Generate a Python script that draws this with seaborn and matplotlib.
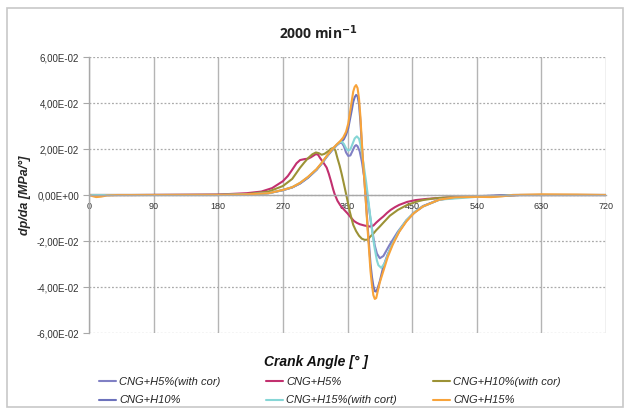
import numpy as np
import pandas as pd
import matplotlib
matplotlib.use("Agg")
import matplotlib.pyplot as plt
import seaborn as sns
from matplotlib.ticker import FuncFormatter
from matplotlib.patches import Rectangle
from matplotlib.lines import Line2D

# ---------------- data ----------------
labels = ["CNG+H5%(with cor)", "CNG+H5%", "CNG+H10%(with cor)",
          "CNG+H10%", "CNG+H15%(with cort)", "CNG+H15%"]
colors = ["#8080c4", "#c2306f", "#9c9236", "#6c72bc", "#86d6d6", "#f8a33a"]

h5c_x = [0, 60, 180, 220, 250, 270, 283, 294, 305, 317, 324, 331, 338, 345, 349, 352, 355, 358,
         361, 364, 367, 370, 372, 374, 377, 380, 383, 386, 389, 392, 395, 398, 401, 405, 410,
         418, 430, 442, 455, 465, 488, 520, 540, 590, 720]
h5c_y = [0, 0, 0, 0.0003, 0.0008, 0.0021, 0.0033, 0.0051, 0.0076, 0.011, 0.0136, 0.0166,
         0.0192, 0.0216, 0.0226, 0.0228, 0.0212, 0.0185, 0.017, 0.0172, 0.0192, 0.0212, 0.0217,
         0.0212, 0.019, 0.0145, 0.0085, 0.0025, -0.0035, -0.0105, -0.0165, -0.022, -0.0255,
         -0.0275, -0.0265, -0.022, -0.016, -0.011, -0.0072, -0.005, -0.002, -0.0009, -0.0006, 0, 0]

h5_x = [0, 60, 180, 220, 240, 255, 270, 277, 283, 289, 294, 300, 305, 309, 312, 316, 319, 322,
        326, 331, 334, 337, 340, 342, 346, 350, 355, 360, 365, 369, 373, 377, 384, 391, 396,
        400, 405, 410, 415, 420, 426, 432, 443, 455, 470, 488, 520, 560, 600, 720]
h5_y = [0, 0, 0.0002, 0.0008, 0.0015, 0.003, 0.006, 0.0083, 0.011, 0.0138, 0.0152, 0.0156, 0.0158,
        0.0164, 0.017, 0.0178, 0.0175, 0.016, 0.0143, 0.0119, 0.0092, 0.006, 0.0025, 0.0005,
        -0.0025, -0.0045, -0.0063, -0.008, -0.0099, -0.0113, -0.0121, -0.0127, -0.0133, -0.0137,
        -0.0133, -0.012, -0.0106, -0.0093, -0.0078, -0.0065, -0.0053, -0.0043, -0.003, -0.0022,
        -0.0017, -0.0013, -0.0008, -0.0005, 0, 0]

h10c_x = [0, 60, 180, 220, 250, 270, 283, 294, 300, 305, 311, 316, 320, 324, 328, 333, 337, 340,
          343, 346, 349, 352, 355, 358, 361, 363, 366, 368, 372, 376, 380, 384, 388, 392, 396,
          400, 405, 410, 419, 430, 442, 455, 465, 480, 500, 560, 600, 720]
h10c_y = [0, 0, 0.0001, 0.0004, 0.0015, 0.0039, 0.007, 0.0119, 0.0142, 0.016, 0.0177, 0.0185,
          0.0182, 0.0175, 0.0179, 0.019, 0.0201, 0.0205, 0.0195, 0.016, 0.0128, 0.009, 0.0048,
          0.0005, -0.004, -0.007, -0.0107, -0.013, -0.0157, -0.0177, -0.019, -0.0195, -0.0194,
          -0.018, -0.0168, -0.0153, -0.0137, -0.012, -0.009, -0.0065, -0.0045, -0.003, -0.0022,
          -0.0015, -0.001, -0.0005, 0, 0]

h10_x = [0, 60, 180, 220, 250, 270, 283, 294, 305, 317, 324, 331, 338, 345, 349, 352, 355, 358,
         361, 364, 366, 368, 370, 372, 374, 376, 378, 380, 382, 384, 386, 388, 390, 392, 394, 396,
         398, 400, 402, 405, 410, 416, 423, 432, 442, 452, 465, 488, 510, 540, 590, 720]
h10_y = [0, 0, 0, 0.0003, 0.0008, 0.0021, 0.0033, 0.005, 0.0075, 0.011, 0.0137, 0.0167, 0.0195,
         0.0218, 0.0228, 0.0232, 0.0243, 0.0262, 0.029, 0.0338, 0.037, 0.0405, 0.0425, 0.0435,
         0.043, 0.0395, 0.032, 0.0215, 0.0125, 0.0045, -0.0045, -0.0135, -0.0215, -0.0298,
         -0.0355, -0.0395, -0.0418, -0.042, -0.0405, -0.0375, -0.031, -0.0258, -0.021, -0.0158,
         -0.0112, -0.0078, -0.0048, -0.002, -0.001, -0.0005, 0, 0]

h15c_x = [0, 60, 180, 220, 250, 270, 283, 294, 305, 317, 324, 331, 338, 345, 349, 352, 355, 358,
          361, 364, 367, 370, 373, 376, 378, 380, 383, 386, 388, 391, 393, 396, 398, 401, 403,
          407, 412, 418, 423, 432, 442, 455, 465, 488, 540, 560, 590, 720]
h15c_y = [0, 0, 0, 0.0003, 0.0008, 0.0022, 0.0034, 0.0053, 0.0078, 0.0112, 0.0138, 0.0168,
          0.0196, 0.0218, 0.0229, 0.0232, 0.0222, 0.0203, 0.0193, 0.0198, 0.0222, 0.0246, 0.0255,
          0.0245, 0.022, 0.0185, 0.012, 0.0055, 0.0005, -0.0075, -0.0125, -0.0195, -0.0235,
          -0.0285, -0.0305, -0.0317, -0.0295, -0.0245, -0.021, -0.0155, -0.011, -0.007, -0.005,
          -0.002, -0.0008, -0.0008, 0, 0]

h15_x = [0, 5, 10, 17, 25, 40, 60, 180, 220, 250, 270, 283, 294, 305, 317, 324, 331, 338, 345,
         350, 354, 358, 361, 364, 366, 368, 370, 372, 374, 376, 378, 380, 382, 384, 386, 388,
         390, 392, 394, 396, 398, 400, 402, 405, 410, 416, 423, 432, 442, 452, 465, 488, 510,
         540, 560, 575, 590, 630, 680, 720]
h15_y = [0, -0.0005, -0.0009, -0.0007, -0.0002, 0, 0, 0, 0.0003, 0.0008, 0.0022, 0.0034, 0.0053,
         0.0079, 0.0113, 0.014, 0.017, 0.0197, 0.022, 0.0235, 0.025, 0.0275, 0.031, 0.037, 0.041,
         0.045, 0.047, 0.0478, 0.0465, 0.042, 0.034, 0.023, 0.0125, 0.004, -0.005, -0.015,
         -0.024, -0.033, -0.039, -0.0435, -0.0452, -0.0448, -0.042, -0.038, -0.033, -0.027,
         -0.0216, -0.016, -0.0115, -0.008, -0.005, -0.002, -0.001, -0.0008, -0.0009, -0.0006,
         0, 0.0003, 0.0002, 0]

series_x = [h5c_x, h5_x, h10c_x, h10_x, h15c_x, h15_x]
series_y = [h5c_y, h5_y, h10c_y, h10_y, h15c_y, h15_y]

x_ticks = [0, 90, 180, 270, 360, 450, 540, 630, 720]
y_ticks = [-0.06, -0.04, -0.02, 0.0, 0.02, 0.04, 0.06]

# ---------------- plotting ----------------
sns.set_theme(style="white")
plt.rcParams["font.family"] = ["Liberation Sans", "DejaVu Sans"]

fig = plt.figure(figsize=(6.25, 4.09), dpi=100)
ax = fig.add_axes([0.1424, 0.1858, 0.8272, 0.6748])

frames = []
for lab, xs, ys in zip(labels, series_x, series_y):
    frames.append(pd.DataFrame({"angle": xs, "val": ys, "series": lab}))
df = pd.concat(frames, ignore_index=True)

sns.lineplot(data=df, x="angle", y="val", hue="series", hue_order=labels,
             palette=dict(zip(labels, colors)), linewidth=1.5, legend=False,
             sort=True, estimator=None, ax=ax)
for ln in ax.get_lines():
    ln.set_solid_joinstyle("round")
    ln.set_solid_capstyle("round")

ax.set_xlim(0, 720)
ax.set_ylim(-0.06, 0.06)
ax.set_xticks(x_ticks)
ax.set_yticks(y_ticks)
ax.yaxis.set_major_formatter(FuncFormatter(lambda v, p: f"{v:.2E}".replace(".", ",").replace("-0,00", "0,00")))

ax.xaxis.grid(True, color="#b4b4b4", linewidth=1.0, linestyle="-")
ax.yaxis.grid(True, color="#aaaaaa", linewidth=0.9, linestyle=(0, (1.5, 1.5)))
ax.set_axisbelow(True)

for s in ["top", "right"]:
    ax.spines[s].set_visible(False)
ax.spines["bottom"].set_position(("data", 0))
ax.spines["bottom"].set_color("#a8a8a8")
ax.spines["bottom"].set_linewidth(1.0)
ax.spines["left"].set_color("#a8a8a8")
ax.spines["left"].set_linewidth(1.0)

ax.tick_params(axis="x", length=0, labelsize=6.5, pad=5, labelcolor="#333333")
ax.tick_params(axis="y", length=4, width=0.8, color="#a8a8a8", direction="out",
               labelsize=7, labelcolor="#333333", pad=3, left=True)

ax.set_xlabel("")
ax.set_ylabel("dp/da [MPa/°]", fontsize=9, fontweight="bold", fontstyle="italic", labelpad=4)

fig.text(0.505, 0.115, "Crank Angle [° ]", ha="center", va="center",
         fontsize=10, fontweight="bold", fontstyle="italic", color="#111111")

fig.text(0.509, 0.921, "2000 min$^{\\mathbf{-1}}$", ha="center", va="center", fontsize=10,
         fontweight="bold", family=["Open Sans", "DejaVu Sans"], color="#222222")

# legend: 3 columns, 2 rows (row-major order as in the reference)
col_x = [0.159, 0.426, 0.693]
for c in range(3):
    idx = [c, c + 3]
    handles = [Line2D([], [], color=colors[i], linewidth=1.5) for i in idx]
    fig.legend(handles, [labels[i] for i in idx], loc="upper left",
               bbox_to_anchor=(col_x[c], 0.078), frameon=False,
               prop={"style": "italic", "size": 8}, handlelength=1.5,
               handletextpad=0.3, labelspacing=0.75, borderaxespad=0, borderpad=0)

fig.patches.append(Rectangle((0.011, 0.004), 0.985, 0.976, transform=fig.transFigure,
                             fill=False, edgecolor="#c8c8c8", linewidth=1.2))

fig.savefig("out.png", dpi=100)
